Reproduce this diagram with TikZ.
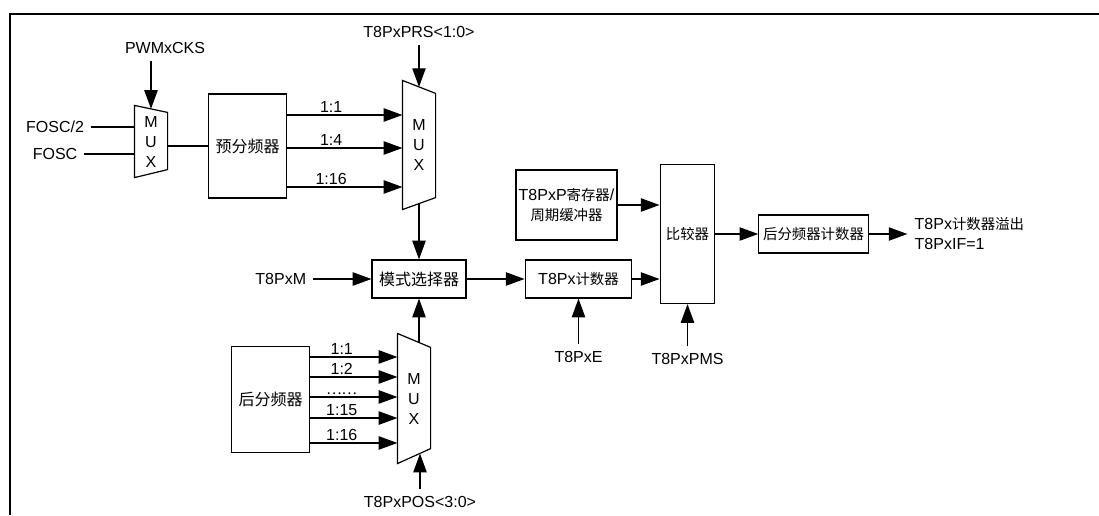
\documentclass[tikz,border=0pt]{standalone}
\usepackage{fontspec}
\setmainfont{Liberation Sans}
\newfontfamily\cjk[Scale=0.9]{Noto Sans CJK SC}
\newfontfamily\cjkl{Noto Sans CJK SC}
\usetikzlibrary{positioning, arrows.meta, calc}

\begin{document}
\begin{tikzpicture}[x=0.75pt, y=-0.75pt, font=\fontsize{12}{15}\selectfont, line width=0.9pt,
  box/.style={draw, inner sep=2pt, align=center},
  mux/.style={inner sep=0pt, minimum width=24pt, align=center},
  sig/.style={inner sep=5pt, align=center},
  lbl/.style={inner sep=1.5pt},
  ar/.style={-{Triangle[length=14pt, width=10pt]}}]
\useasboundingbox (0,0) rectangle (1099,515);
\draw[line width=1.5pt] (1099,14) -- (10,14) -- (10,515);

% clock select
\node[sig] (fosc2) at (55,127) {FOSC/2};
\node[sig] (fosc) at (55,154) {FOSC};
\node[mux, minimum height=53.25pt] (mx1) at (151,141.5) {M\\U\\X};
\node[sig] (pwm) at (165,48) {PWMxCKS};
\node[box, minimum width=59pt, minimum height=78pt] (pre) at (247.5,146) {\cjkl 预分频器};

% prescaler mux
\node[mux, minimum height=96pt] (mx2) at (419,145) {M\\U\\X};
\node[sig, above=26.7pt of mx2] (prs) {T8PxPRS<1:0>};

% mode and counter
\node[box, minimum width=70.5pt, minimum height=28.5pt] (mode) at (419,279) {\cjkl 模式选择器};
\node[sig, left=43.5pt of mode] (tm) {T8PxM};
\node[box, minimum width=80pt, minimum height=28.5pt] (cnt) at (578.5,279) {T8Px{\cjk 计数器}};
\node[sig, below=33.75pt of cnt] (te) {T8PxE};

% postscaler
\node[box, minimum width=59pt, minimum height=79pt] (post) at (270.5,399.5) {\cjkl 后分频器};
\node[mux, minimum height=96.75pt] (mx3) at (414,398.5) {M\\U\\X};
\node[sig] (pos) at (420,502) {T8PxPOS<3:0>};

% compare
\node[box, minimum width=74pt, minimum height=52.5pt] (preg) at (566.5,205) {T8PxP{\cjk 寄存器}/\\{\cjk 周期缓冲器}};
\node[box, minimum width=41pt, minimum height=104.25pt] (cmp) at (687.5,234) {\cjk 比较器};
\node[sig, below=31.5pt of cmp] (pms) {T8PxPMS};
\node[box, minimum width=82pt, minimum height=28.5pt] (pcnt) at (813.5,234) {\cjk 后分频器计数器};
\node[sig, align=left, right=29pt of pcnt] (ovf) {T8Px{\cjk 计数器溢出}\\T8PxIF=1};

% mux outlines
\draw (mx1.north west) -- ([yshift=-5.25pt]mx1.north east) -- ([yshift=6pt]mx1.south east) -- (mx1.south west) -- cycle;
\draw (mx2.north west) -- ([yshift=-9.75pt]mx2.north east) -- ([yshift=9pt]mx2.south east) -- (mx2.south west) -- cycle;
\draw (mx3.north west) -- ([yshift=-10.5pt]mx3.north east) -- ([yshift=11.25pt]mx3.south east) -- (mx3.south west) -- cycle;

\coordinate (s1) at ([yshift=23.25pt]pre.east);
\coordinate (s2) at ([yshift=-1.5pt]pre.east);
\coordinate (s3) at ([yshift=-30.75pt]pre.east);
\coordinate (q1) at ([yshift=31.9pt]post.east);
\coordinate (q2) at ([yshift=16.9pt]post.east);
\coordinate (q3) at ([yshift=1.9pt]post.east);
\coordinate (q4) at ([yshift=-13.9pt]post.east);
\coordinate (q5) at ([yshift=-32.6pt]post.east);

\draw (fosc2.east) -- (fosc2.east -| mx1.west);
\draw (fosc.east) -- (fosc.east -| mx1.west);
\draw[ar] (mx1.north |- pwm.south) -- ([yshift=-2.6pt]mx1.north);
\draw (mx1.east |- pre.west) -- (pre.west);

\draw[ar] (s1) -- node[lbl, above, pos=0.38] (r1) {1:1} (s1 -| mx2.west);
\draw[ar] (s2) -- node[lbl, above, pos=0.38] (r2) {1:4} (s2 -| mx2.west);
\draw[ar] (s3) -- node[lbl, above, pos=0.38] (r3) {1:16} (s3 -| mx2.west);
\draw[ar] (prs.south) -- ([yshift=-4.9pt]mx2.north);
\draw[ar] ([yshift=4.5pt]mx2.south) -- (mode.north);

\draw[ar] (q1) -- node[lbl, above, pos=0.36] (d1) {1:1} (q1 -| mx3.west);
\draw[ar] (q2) -- node[lbl, above, pos=0.36] (d2) {1:2} (q2 -| mx3.west);
\draw[ar] (q3) -- node[lbl, above, pos=0.36] (d3) {\cjk ……} (q3 -| mx3.west);
\draw[ar] (q4) -- node[lbl, above, pos=0.36] (d4) {1:15} (q4 -| mx3.west);
\draw[ar] (q5) -- node[lbl, above, pos=0.36] (d5) {1:16} (q5 -| mx3.west);
\draw[ar] ($(mode.south |- mx3.north)+(0,-6.75pt)$) -- (mode.south);
\draw[ar] (pos.north) -- ($(pos.north |- mx3.south)+(0,7.5pt)$);

\draw[ar] (tm.east) -- (mode.west);
\draw[ar] (mode.east) -- (cnt.west);
\draw[ar] (cnt.south |- te.north) -- (cnt.south);
\draw[ar] (preg.east) -- (preg.east -| cmp.west);
\draw[ar] (cnt.east) -- (cnt.east -| cmp.west);
\draw[ar] (cmp.south |- pms.north) -- (cmp.south);
\draw[ar] (cmp.east) -- (pcnt.west);
\draw[ar] (pcnt.east) -- (pcnt.east -| ovf.west);
\end{tikzpicture}
\end{document}
